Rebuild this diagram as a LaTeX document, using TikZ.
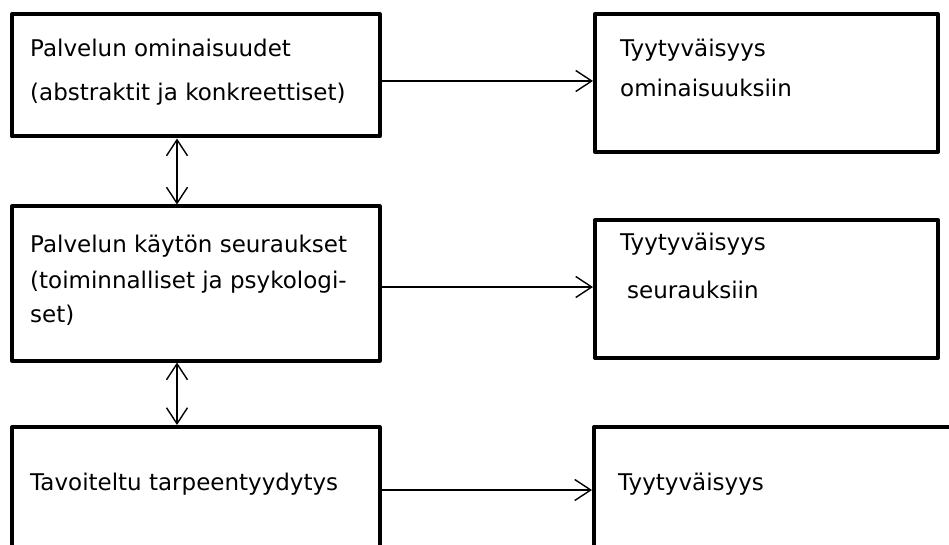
\documentclass[tikz,border=0pt]{standalone}
\usepackage{fontspec}
\setmainfont{DejaVu Sans}
\usetikzlibrary{arrows.meta}
\tikzset{
  box/.style={draw=black, line width=4pt, line join=round, rectangle, inner sep=0pt, fill=white},
  txt/.style={anchor=base west, inner sep=0pt, font=\fontsize{23}{28}\selectfont},
  conn/.style={line width=1.4pt, -{Straight Barb[length=16pt,width=21pt,line width=1.4pt]}},
  dconn/.style={line width=1.4pt, {Straight Barb[length=16pt,width=21pt,line width=1.4pt]}-{Straight Barb[length=16pt,width=21pt,line width=1.4pt]}}
}
\begin{document}
\begin{tikzpicture}[x=1pt,y=-1pt]
\useasboundingbox[fill=white] (0,0) rectangle (949,545);
% boxes
\node[box, minimum width=367.5pt, minimum height=122.5pt] (L1) at (195.75,75.25) {};
\node[box, minimum width=343pt, minimum height=138pt] (R1) at (766.5,83) {};
\node[box, minimum width=367.5pt, minimum height=154pt] (L2) at (195.75,283.5) {};
\node[box, minimum width=343pt, minimum height=138pt] (R2) at (766.5,289) {};
\node[box, minimum width=367.5pt, minimum height=193pt] (L3) at (195.75,523.5) {};
\node[box, minimum width=406pt, minimum height=193pt] (R3) at (797,523.5) {};
% texts
\node[txt] (t1a) at (30,57) {Palvelun ominaisuudet};
\node[txt] (t1b) at (30,101) {(abstraktit ja konkreettiset)};
\node[txt] (s1a) at (620,57) {Tyytyväisyys};
\node[txt] (s1b) at (620,97) {ominaisuuksiin};
\node[txt] (t2a) at (30,252) {Palvelun käytön seuraukset};
\node[txt] (t2b) at (30,288) {(toiminnalliset ja psykologi-};
\node[txt] (t2c) at (30,322) {set)};
\node[txt] (s2a) at (620,250) {Tyytyväisyys};
\node[txt] (s2b) at (627,298) {seurauksiin};
\node[txt] (t3a) at (30,490) {Tavoiteltu tarpeentyydytys};
\node[txt] (s3a) at (618,490) {Tyytyväisyys};
% connector helper coordinates
\coordinate (vx) at (177,0);
\coordinate (h1) at (0,81);
\coordinate (h2) at (0,287);
\coordinate (h3) at (0,490);
% connectors
\draw[conn] (L1.east |- h1) -- (R1.west |- h1);
\draw[conn] (L2.east |- h2) -- (R2.west |- h2);
\draw[conn] (L3.east |- h3) -- (R3.west |- h3);
\draw[dconn] (L1.south -| vx) -- (L2.north -| vx);
\draw[dconn] (L2.south -| vx) -- (L3.north -| vx);
\end{tikzpicture}
\end{document}
